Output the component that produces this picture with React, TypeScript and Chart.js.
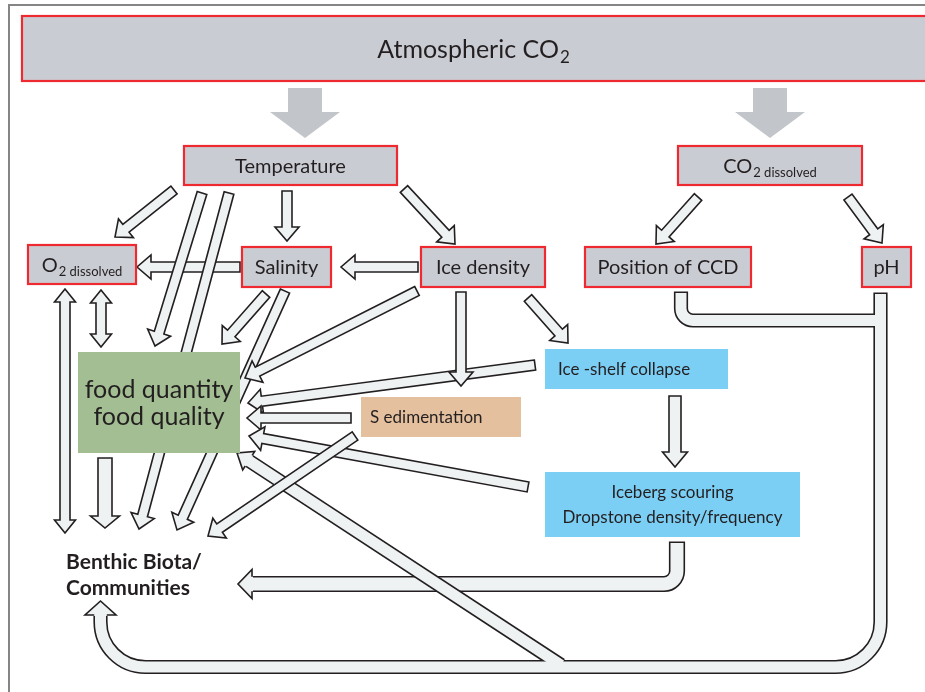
import React, { useEffect, useRef } from "react";
import { Chart, registerables } from "chart.js";

Chart.register(...registerables);

// ---------------- data (diagram coordinates in data units) ----------------
const boxKind = ["atm", "factor", "factor", "factor", "factor", "factor", "factor", "factor", "food", "sed", "shelf", "berg"];
const boxText = [
  "Atmospheric CO",
  "Temperature",
  "CO",
  "O",
  "Salinity",
  "Ice density",
  "Position of CCD",
  "pH",
  "food quantity|food quality",
  "S edimentation",
  "Ice -shelf collapse",
  "Iceberg scouring|Dropstone density/frequency",
];
const boxSub = ["2", "", "2 dissolved", "2 dissolved", "", "", "", "", "", "", "", ""];
const boxLeft = [22, 184, 678, 28, 242, 421, 585, 862, 78, 361, 545, 545];
const boxTop = [16, 146, 146, 245, 247, 247, 247, 247, 352, 397, 349, 472];
const boxRight = [945, 397, 862, 136, 331, 545, 751, 911, 240, 521, 728, 800];
const boxBottom = [81, 185, 185, 284, 287, 287, 287, 287, 453, 437, 389, 537];

const freeText = ["Benthic Biota/", "Communities"];
const freeTextX = [66, 66];
const freeTextY = [561, 587];

// big grey arrows from Atmospheric CO2
const bigArrowX = [305, 770];
const bigArrowFromY = [88, 88];
const bigArrowToY = [138, 138];

// straight block arrows (tail -> tip)
const arrowFromX = [240, 418, 287, 174, 404, 698, 848, 65, 101, 105, 202, 229, 266, 285, 417, 535, 528, 461, 351, 528, 355, 675];
const arrowFromY = [267, 267, 191, 190, 189, 197, 197, 289, 290, 458, 193, 193, 294, 291, 291, 365, 298, 292, 418, 487, 436, 396];
const arrowToX = [137, 341, 287, 115, 455, 656, 882, 65, 101, 105, 155, 139, 222, 177, 245, 248, 568, 461, 247, 249, 208, 675];
const arrowToY = [267, 267, 241, 237, 244, 244, 243, 533, 347, 528, 346, 529, 344, 530, 378, 403, 343, 386, 418, 436, 536, 467];
const arrowType = ["thin", "thin", "thin", "thin", "thin", "thin", "thin", "double", "double", "wide", "thin", "thin", "thin", "thin", "thin", "thin", "thin", "thin", "thin", "thin", "thin", "mid"];

// bent connectors (polylines); last point is arrow tip when headed
const pipeBergX = [677, 677, 238];
const pipeBergY = [543, 584, 584];
const pipeLoopX = [880.5, 880.5, 100.5, 100.5];
const pipeLoopY = [294, 667, 667, 601];
const pipeDiagX = [561, 237];
const pipeDiagY = [665, 453];
const pipeCcdX = [681, 681, 880.5];
const pipeCcdY = [293, 320.5, 320.5];

// ---------------- styles ----------------
const DARK = "#231f20";
const LIGHT = "#eef2f3";
const FONT = "Lato, 'Open Sans', sans-serif";
const boxStyle: Record<string, any> = {
  atm: { fill: "#c9ccd3", border: "#ee2a30", size: 25, sub: 17, align: "center" },
  factor: { fill: "#c9ccd3", border: "#ee2a30", size: 20, sub: 13, align: "center" },
  food: { fill: "#a3be92", border: null, size: 25, sub: 0, align: "center", lh: 27 },
  sed: { fill: "#e5c09e", border: null, size: 17, sub: 0, align: "left", pad: 9 },
  shelf: { fill: "#7ccff4", border: null, size: 17, sub: 0, align: "left", pad: 13 },
  berg: { fill: "#7ccff4", border: null, size: 17, sub: 0, align: "center", lh: 25 },
};
const arrowStyle: Record<string, any> = {
  thin: { sw: 10, hw: 24, hl: 14, dbl: false },
  double: { sw: 10, hw: 21, hl: 13, dbl: true },
  wide: { sw: 14, hw: 29, hl: 12, dbl: false },
  mid: { sw: 12, hw: 25, hl: 15, dbl: false },
};

type Pt = [number, number];

function blockArrow(ctx: CanvasRenderingContext2D, a: Pt, b: Pt, st: any) {
  const dx = b[0] - a[0], dy = b[1] - a[1];
  const len = Math.hypot(dx, dy);
  const ux = dx / len, uy = dy / len, nx = -uy, ny = ux;
  const s = st.sw / 2, h = st.hw / 2, hl = st.hl;
  const ex = b[0] - ux * hl, ey = b[1] - uy * hl;
  const pts: Pt[] = [];
  if (st.dbl) {
    const tx = a[0] + ux * hl, ty = a[1] + uy * hl;
    pts.push([tx + nx * s, ty + ny * s]);
    pts.push([ex + nx * s, ey + ny * s], [ex + nx * h, ey + ny * h], [b[0], b[1]], [ex - nx * h, ey - ny * h], [ex - nx * s, ey - ny * s]);
    pts.push([tx - nx * s, ty - ny * s], [tx - nx * h, ty - ny * h], [a[0], a[1]], [tx + nx * h, ty + ny * h]);
  } else {
    pts.push([a[0] + nx * s, a[1] + ny * s]);
    pts.push([ex + nx * s, ey + ny * s], [ex + nx * h, ey + ny * h], [b[0], b[1]], [ex - nx * h, ey - ny * h], [ex - nx * s, ey - ny * s]);
    pts.push([a[0] - nx * s, a[1] - ny * s]);
  }
  ctx.beginPath();
  pts.forEach((p, i) => (i ? ctx.lineTo(p[0], p[1]) : ctx.moveTo(p[0], p[1])));
  ctx.closePath();
  ctx.fillStyle = LIGHT;
  ctx.fill();
  ctx.strokeStyle = DARK;
  ctx.lineWidth = 1.6;
  ctx.lineJoin = "miter";
  ctx.stroke();
}

type Pipe = { pts: Pt[]; r: number; sw: number; head: null | { hw: number; hl: number }; capStart: boolean };

function pipeGeometry(p: Pipe) {
  const pts = p.pts.map((q) => [q[0], q[1]] as Pt);
  let tip: Pt | null = null;
  let base: Pt | null = null;
  let u: Pt = [0, 0];
  if (p.head) {
    const n = pts.length;
    const a = pts[n - 2], b = pts[n - 1];
    const len = Math.hypot(b[0] - a[0], b[1] - a[1]);
    u = [(b[0] - a[0]) / len, (b[1] - a[1]) / len];
    tip = [b[0], b[1]];
    base = [b[0] - u[0] * p.head.hl, b[1] - u[1] * p.head.hl];
    pts[n - 1] = base;
  }
  return { pts, tip, base, u };
}

function strokePipe(ctx: CanvasRenderingContext2D, pts: Pt[], r: number) {
  ctx.beginPath();
  ctx.moveTo(pts[0][0], pts[0][1]);
  for (let i = 1; i < pts.length - 1; i++) ctx.arcTo(pts[i][0], pts[i][1], pts[i + 1][0], pts[i + 1][1], r);
  ctx.lineTo(pts[pts.length - 1][0], pts[pts.length - 1][1]);
  ctx.stroke();
}

function drawPipes(ctx: CanvasRenderingContext2D, pipes: Pipe[]) {
  const b = 1.6;
  const geos = pipes.map(pipeGeometry);
  ctx.lineCap = "butt";
  ctx.lineJoin = "round";
  pipes.forEach((p, i) => {
    const pts = geos[i].pts.slice();
    if (p.capStart) {
      const a = pts[0], c = pts[1];
      const l = Math.hypot(c[0] - a[0], c[1] - a[1]);
      pts[0] = [a[0] - ((c[0] - a[0]) / l) * b, a[1] - ((c[1] - a[1]) / l) * b];
    }
    ctx.strokeStyle = DARK;
    ctx.lineWidth = p.sw + 2 * b;
    strokePipe(ctx, pts, p.r);
  });
  pipes.forEach((p, i) => {
    ctx.strokeStyle = LIGHT;
    ctx.lineWidth = p.sw;
    strokePipe(ctx, geos[i].pts, p.r);
  });
  pipes.forEach((p, i) => {
    const g = geos[i];
    if (!p.head || !g.tip || !g.base) return;
    const u = g.u, nx = -u[1], ny = u[0];
    const s = p.sw / 2, h = p.head.hw / 2;
    const bx = g.base[0], by = g.base[1];
    ctx.beginPath();
    ctx.moveTo(bx + nx * s - u[0], by + ny * s - u[1]);
    ctx.lineTo(bx + nx * h, by + ny * h);
    ctx.lineTo(g.tip[0], g.tip[1]);
    ctx.lineTo(bx - nx * h, by - ny * h);
    ctx.lineTo(bx - nx * s - u[0], by - ny * s - u[1]);
    ctx.closePath();
    ctx.fillStyle = LIGHT;
    ctx.fill();
    ctx.beginPath();
    ctx.moveTo(bx + nx * (s + b / 2), by + ny * (s + b / 2));
    ctx.lineTo(bx + nx * h, by + ny * h);
    ctx.lineTo(g.tip[0], g.tip[1]);
    ctx.lineTo(bx - nx * h, by - ny * h);
    ctx.lineTo(bx - nx * (s + b / 2), by - ny * (s + b / 2));
    ctx.strokeStyle = DARK;
    ctx.lineWidth = b;
    ctx.lineJoin = "miter";
    ctx.stroke();
    ctx.lineJoin = "round";
  });
}

function drawLabel(ctx: CanvasRenderingContext2D, main: string, sub: string, x: number, y: number, size: number, subSize: number, align: string, weight = "normal") {
  ctx.font = `${weight} ${size}px ${FONT}`;
  const wm = ctx.measureText(main).width;
  let ws = 0;
  if (sub) {
    ctx.font = `${subSize}px ${FONT}`;
    ws = ctx.measureText(sub).width + 1;
  }
  const x0 = align === "left" ? x : x - (wm + ws) / 2;
  const base = y + size * 0.36;
  ctx.fillStyle = DARK;
  ctx.textAlign = "left";
  ctx.textBaseline = "alphabetic";
  ctx.font = `${weight} ${size}px ${FONT}`;
  ctx.fillText(main, x0, base);
  if (sub) {
    ctx.font = `${subSize}px ${FONT}`;
    ctx.fillText(sub, x0 + wm + 1, base + size * 0.2);
  }
}

const diagramPlugin = {
  id: "diagram",
  beforeDraw(chart: any) {
    const ctx: CanvasRenderingContext2D = chart.ctx;
    ctx.save();
    ctx.fillStyle = "#ffffff";
    ctx.fillRect(0, 0, chart.width, chart.height);
    ctx.restore();
  },
  afterDraw(chart: any) {
    const ctx: CanvasRenderingContext2D = chart.ctx;
    const xs = chart.scales.x, ys = chart.scales.y;
    const X = (v: number) => xs.getPixelForValue(v);
    const Y = (v: number) => ys.getPixelForValue(v);
    ctx.save();

    // frame
    ctx.strokeStyle = "#858585";
    ctx.lineWidth = 2;
    ctx.beginPath();
    ctx.moveTo(X(9), Y(692));
    ctx.lineTo(X(9), Y(5));
    ctx.lineTo(X(925), Y(5));
    ctx.stroke();

    const drawBox = (i: number) => {
      const st = boxStyle[boxKind[i]];
      const x0 = X(boxLeft[i]), x1 = X(boxRight[i]), y0 = Y(boxTop[i]), y1 = Y(boxBottom[i]);
      ctx.fillStyle = st.fill;
      ctx.fillRect(x0, y0, x1 - x0, y1 - y0);
      if (st.border) {
        ctx.strokeStyle = st.border;
        ctx.lineWidth = 2.2;
        ctx.strokeRect(x0, y0, x1 - x0, y1 - y0);
      }
      const lines = boxText[i].split("|");
      const cy = (y0 + y1) / 2;
      const lh = st.lh || 0;
      lines.forEach((ln, k) => {
        const yy = cy + (k - (lines.length - 1) / 2) * lh;
        const xx = st.align === "left" ? x0 + st.pad : (x0 + Math.min(x1, X(925))) / 2;
        drawLabel(ctx, ln, k === 0 ? boxSub[i] : "", xx, yy, st.size, st.sub, st.align);
      });
    };

    // big grey arrows
    bigArrowX.forEach((cx, i) => {
      const x = X(cx), y0 = Y(bigArrowFromY[i]), y1 = Y(bigArrowToY[i]);
      const headL = 26, sw = 17, hw = 35;
      ctx.beginPath();
      ctx.moveTo(x - sw, y0);
      ctx.lineTo(x + sw, y0);
      ctx.lineTo(x + sw, y1 - headL);
      ctx.lineTo(x + hw, y1 - headL);
      ctx.lineTo(x, y1);
      ctx.lineTo(x - hw, y1 - headL);
      ctx.lineTo(x - sw, y1 - headL);
      ctx.closePath();
      ctx.fillStyle = "#c2c5ca";
      ctx.fill();
    });

    [0, 1, 2].forEach(drawBox);

    const P = (xa: number[], ya: number[]) => xa.map((v, i) => [X(v), Y(ya[i])] as Pt);
    drawPipes(ctx, [{ pts: P(pipeBergX, pipeBergY), r: 13, sw: 13, head: { hw: 29, hl: 14 }, capStart: true }]);
    drawPipes(ctx, [
      { pts: P(pipeLoopX, pipeLoopY), r: 45, sw: 11, head: { hw: 31, hl: 14 }, capStart: true },
      { pts: P(pipeDiagX, pipeDiagY), r: 0, sw: 11, head: { hw: 22, hl: 14 }, capStart: false },
      { pts: P(pipeCcdX, pipeCcdY), r: 12, sw: 11, head: null, capStart: true },
    ]);

    arrowFromX.forEach((_, i) => {
      blockArrow(ctx, [X(arrowFromX[i]), Y(arrowFromY[i])], [X(arrowToX[i]), Y(arrowToY[i])], arrowStyle[arrowType[i]]);
    });

    for (let i = 3; i < boxKind.length; i++) drawBox(i);

    freeText.forEach((t, i) => {
      drawLabel(ctx, t, "", X(freeTextX[i]), Y(freeTextY[i]), 21, 0, "left", "bold");
    });

    ctx.restore();
  },
};

export default function App() {
  const ref = useRef<HTMLCanvasElement | null>(null);
  useEffect(() => {
    if (!ref.current) return;
    const chart = new Chart(ref.current, {
      type: "scatter",
      data: { datasets: [{ data: [], pointRadius: 0 }] },
      options: {
        animation: false,
        responsive: false,
        maintainAspectRatio: false,
        devicePixelRatio: 1,
        events: [],
        layout: { padding: 0 },
        plugins: { legend: { display: false }, tooltip: { enabled: false } },
        scales: {
          x: { type: "linear", min: 0, max: 925, display: false },
          y: { type: "linear", min: 0, max: 692, reverse: true, display: false },
        },
      },
      plugins: [diagramPlugin],
    } as any);
    let alive = true;
    if ((document as any).fonts) {
      Promise.all([
        (document as any).fonts.load(`20px Lato`),
        (document as any).fonts.load(`bold 20px Lato`),
      ]).then(() => alive && chart.draw()).catch(() => {});
    }
    return () => {
      alive = false;
      chart.destroy();
    };
  }, []);
  return (
    <div style={{ position: "absolute", left: 0, top: 0, width: 925, height: 692, background: "#fff" }}>
      <canvas ref={ref} width={925} height={692} style={{ display: "block", width: 925, height: 692 }} />
    </div>
  );
}
